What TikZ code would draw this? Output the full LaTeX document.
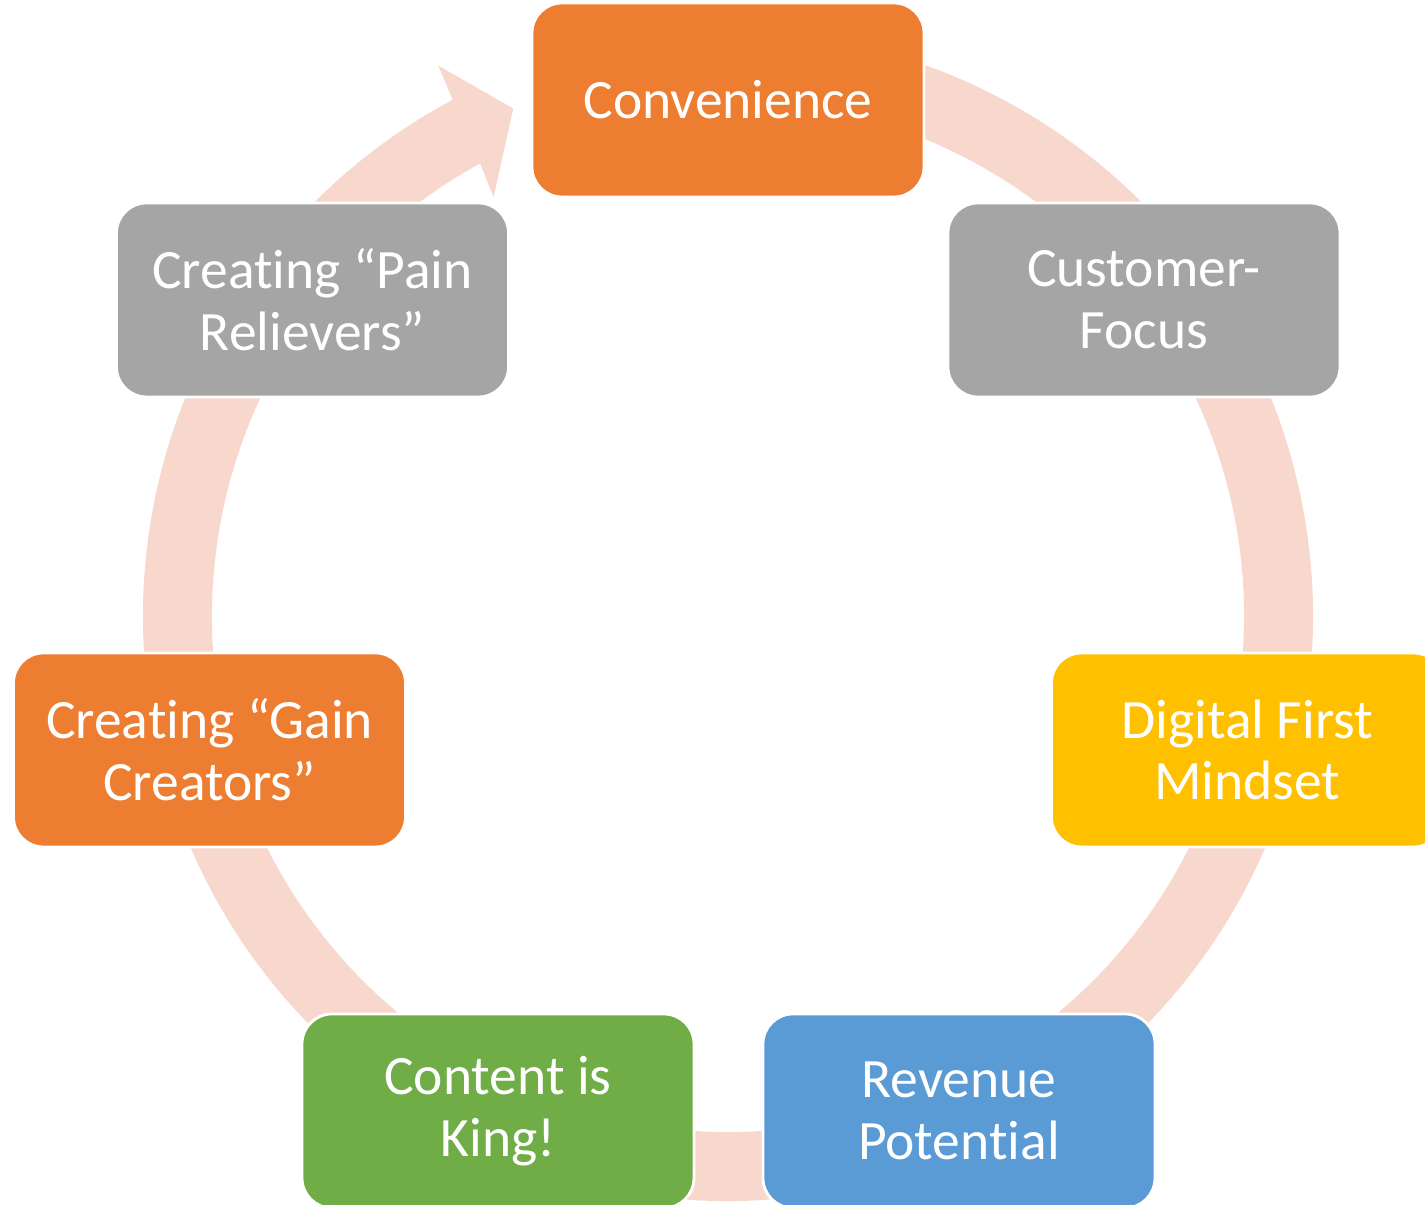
\documentclass[tikz,border=0pt]{standalone}
\usepackage{fontspec}
\setmainfont[Ligatures={NoCommon}]{Carlito}
\definecolor{orangebox}{HTML}{ED7D31}
\definecolor{greybox}{HTML}{A5A5A5}
\definecolor{yellowbox}{HTML}{FFC000}
\definecolor{bluebox}{HTML}{5B9BD5}
\definecolor{greenbox}{HTML}{70AD47}
\definecolor{ring}{HTML}{F8D8CC}
\begin{document}
\begin{tikzpicture}[main/.style = {draw=white, line width=0.8pt, rounded corners=0.3cm,
    minimum width=3.92cm, minimum height=1.94cm, inner sep=0pt, align=center,
    text=white, font=\fontsize{15.8pt}{17.6pt}\selectfont}]
\useasboundingbox (-7.28,-5.89) rectangle (6.97,6.16);

% the ring with its arrow head, under the boxes
\fill[ring] (100:5.85) arc[start angle=100, end angle=-241.92, radius=5.85]
  -- (117.76:6.22) -- (112.93:5.51) -- (119.24:4.80) -- (118.71:5.16)
  arc[start angle=-241.29, end angle=100, radius=5.16] -- cycle;

\node[main, fill=orangebox] (1) at (0,5.16) {Convenience};
\node[main, fill=greybox] (2) at (4.16,3.16) {Customer-\\Focus};
\node[main, fill=yellowbox] (3) at (5.195,-1.34) {Digital First\\Mindset};
\node[main, fill=bluebox] (4) at (2.31,-4.95) {Revenue\\Potential};
\node[main, fill=greenbox] (5) at (-2.30,-4.95) {Content is\\King!};
\node[main, fill=orangebox] (6) at (-5.185,-1.34) {Creating “Gain\\Creators”};
\node[main, fill=greybox] (7) at (-4.155,3.16) {Creating “Pain\\Relievers”};
\end{tikzpicture}
\end{document}
